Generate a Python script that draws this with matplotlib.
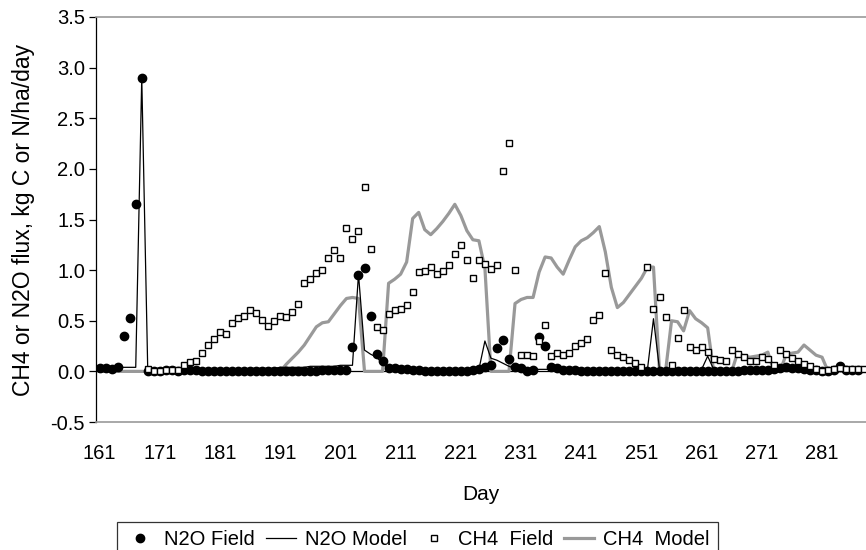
import numpy as np
import matplotlib
matplotlib.use('Agg')
import matplotlib.pyplot as plt
from matplotlib.lines import Line2D

plt.rcParams['font.family'] = ['Liberation Sans', 'DejaVu Sans']

nan = np.nan
days = list(range(161, 289))
x_ticks = [161, 171, 181, 191, 201, 211, 221, 231, 241, 251, 261, 271, 281]
y_ticks = [-0.5, 0.0, 0.5, 1.0, 1.5, 2.0, 2.5, 3.0, 3.5]

# N2O field (161-288)
n2o_field = [0.03, 0.03, 0.02, 0.04, 0.35, 0.53, 1.65, 2.90, 0.00,
             0.00, 0.00, 0.01, 0.01, 0.00, 0.01, 0.01, 0.01, 0.00, 0.00,
             0.00, 0.00, 0.00, 0.00, 0.00, 0.00, 0.00, 0.00, 0.00, 0.00,
             0.00, 0.00, 0.00, 0.00, 0.00, 0.00, 0.00, 0.00, 0.01, 0.01,
             0.01, 0.01, 0.01,
             0.24, 0.95, 1.02, 0.55, 0.17, 0.10,
             0.03, 0.03, 0.02, 0.02, 0.01, 0.01, 0.00, 0.00, 0.00, 0.00,
             0.00, 0.00, 0.00, 0.00, 0.01,
             0.02, 0.04, 0.06, 0.23, 0.31, 0.12, 0.04, 0.03, 0.00, 0.01,
             0.34, 0.25, 0.04, 0.03,
             0.01, 0.01, 0.01, 0.00, 0.00, 0.00, 0.00, 0.00, 0.00, 0.00,
             0.00, 0.00, 0.00, 0.00, 0.00, 0.00, 0.00, 0.00, 0.00, 0.00,
             0.00, 0.00, 0.00, 0.00, 0.00, 0.00, 0.00, 0.00, 0.00, 0.00,
             0.01, 0.01, 0.01, 0.01, 0.01,
             0.02, 0.03, 0.04, 0.03, 0.03, 0.02, 0.01,
             0.01, 0.00, 0.00, 0.01, 0.05, 0.01, 0.01, 0.01, nan]

n2o_model = [0.04, 0.04, 0.04, 0.04, 0.04, 0.04, 0.04, 2.90, 0.00,
             0.00, 0.00, 0.00, 0.01, 0.01, 0.01, 0.01, 0.01, 0.01, 0.01,
             0.02, 0.02, 0.02, 0.02, 0.02, 0.02, 0.03, 0.03, 0.03, 0.03,
             0.03, 0.04, 0.04, 0.04, 0.04, 0.04, 0.05, 0.05, 0.05, 0.05,
             0.05, 0.06, 0.06, 0.06,
             0.96, 0.21, 0.17, 0.14, 0.08, 0.02,
             0.01, 0.01, 0.01, 0.01, 0.01, 0.01, 0.01, 0.01, 0.01, 0.01,
             0.01, 0.01, 0.01, 0.01, 0.02,
             0.30, 0.13, 0.11, 0.08, 0.05, 0.03,
             0.02, 0.02, 0.02, 0.02, 0.02, 0.02, 0.02, 0.02, 0.02, 0.02,
             0.02, 0.02, 0.02, 0.02, 0.02, 0.02, 0.02, 0.02, 0.02, 0.02,
             0.02, 0.02,
             0.52,
             0.02, 0.02, 0.02, 0.02, 0.02, 0.02, 0.02, 0.02,
             0.15,
             0.02, 0.02, 0.02, 0.02, 0.02, 0.02, 0.02, 0.02, 0.02, 0.02,
             0.02, 0.02, 0.02, 0.02, 0.02, 0.02, 0.02, 0.02, 0.02, 0.02,
             0.02, 0.02, 0.02, 0.02, 0.02, 0.02]

ch4_field = [nan, nan, nan, nan, nan, nan, nan, nan, 0.02,
             0.00, 0.00, 0.01, 0.01, 0.01, 0.06, 0.09, 0.10, 0.18, 0.26,
             0.32, 0.39, 0.37, 0.48, 0.53, 0.55, 0.61, 0.58, 0.51, 0.45,
             0.50, 0.55, 0.54, 0.59, 0.67, 0.87, 0.91, 0.97, 1.00, 1.12,
             1.20, 1.12, 1.42, 1.31, 1.39, 1.82, 1.21, 0.44, 0.41, 0.57,
             0.61, 0.62, 0.66, 0.78, 0.98, 0.99, 1.03, 0.96, 0.99, 1.05,
             1.16, 1.25, 1.10, 0.92, 1.10, 1.06, 1.01, 1.05, 1.98, 2.26,
             1.00, 0.16, 0.16, 0.15, 0.30, 0.46, 0.15, 0.18, 0.16, 0.18,
             0.25, 0.28, 0.32, 0.51, 0.56, 0.97, 0.21, 0.16, 0.14, 0.11,
             0.08, 0.04, 1.03, 0.62, 0.73, 0.54, 0.06, 0.33, 0.61, 0.24,
             0.21, 0.24, 0.19, 0.12, 0.11, 0.10, 0.21, 0.17, 0.14, 0.10,
             0.10, 0.14, 0.12, 0.06, 0.21, 0.17, 0.13, 0.10, 0.07, 0.05,
             0.02, 0.00, 0.01, 0.02, 0.03, 0.02, 0.02, 0.02, 0.02]

ch4_model = [0.0] * 30 + [
             0.00, 0.07, 0.13, 0.19, 0.26, 0.35, 0.44, 0.48, 0.49, 0.57,
             0.65, 0.72, 0.73, 0.72,
             0.00, 0.00, 0.00, 0.00,
             0.87, 0.91, 0.96, 1.08, 1.51, 1.57, 1.40, 1.35, 1.41, 1.48,
             1.56, 1.65, 1.54, 1.39, 1.30, 1.29, 1.02,
             0.00, 0.00, 0.00, 0.00,
             0.67, 0.71, 0.73, 0.73, 0.98, 1.13, 1.12, 1.03, 0.96, 1.10,
             1.23, 1.29, 1.32, 1.37, 1.43, 1.18, 0.83, 0.63, 0.68, 0.76,
             0.84, 0.92, 1.03, 1.03,
             0.00, 0.00,
             0.50, 0.49, 0.40, 0.60, 0.52, 0.48, 0.43,
             0.00, 0.00, 0.00, 0.00,
             0.19, 0.15, 0.14, 0.15, 0.16, 0.19,
             0.00, 0.00,
             0.16, 0.18, 0.19, 0.26, 0.21, 0.16, 0.14,
             0.00, 0.00, 0.00, 0.00, 0.00, 0.00, 0.00]

fig = plt.figure(figsize=(8.66, 5.5), dpi=100)
ax = fig.add_axes([96 / 866, 128 / 550, 770 / 866, 405 / 550])

gray = '#999999'
fs = 14.5
ax.plot(days, ch4_model, color=gray, lw=2.3, zorder=2)
ax.plot(days, n2o_model, color='black', lw=0.9, zorder=3)
ax.plot(days, n2o_field, 'o', color='black', ms=6, zorder=4)
ax.plot(days, ch4_field, 's', mfc='white', mec='black', mew=1.0, ms=5,
        zorder=5)
ax.axhline(0, color='black', lw=0.9, zorder=1)

ax.set_xlim(160.4, 288.3)
ax.set_ylim(-0.5, 3.5)
ax.set_xticks(x_ticks)
ax.set_yticks(y_ticks)
ax.set_yticklabels(['%.1f' % v for v in y_ticks])
ax.tick_params(axis='x', length=0, pad=16, labelsize=fs)
ax.tick_params(axis='y', length=5, width=0.9, labelsize=fs, pad=3)

ax.spines['left'].set_color('black')
ax.spines['left'].set_linewidth(0.9)
ax.spines['top'].set_color(gray)
ax.spines['bottom'].set_color(gray)
ax.spines['top'].set_linewidth(1.2)
ax.spines['bottom'].set_linewidth(1.2)
ax.spines['right'].set_visible(False)

ax.set_xlabel('Day', fontsize=15, labelpad=16)
ax.set_ylabel('CH4 or N2O flux, kg C or N/ha/day', fontsize=16.5, labelpad=11)

handles = [
    Line2D([], [], ls='none', marker='o', color='black', ms=6),
    Line2D([], [], color='black', lw=0.9),
    Line2D([], [], ls='none', marker='s', mfc='white', mec='black', mew=1.0, ms=4.5),
    Line2D([], [], color=gray, lw=2.3),
]
labels = ['N2O Field', 'N2O Model', 'CH4  Field', 'CH4  Model']
leg = fig.legend(handles, labels, loc='upper left',
                 bbox_to_anchor=(117 / 866, 1 - 522 / 550), ncol=4,
                 fontsize=fs, frameon=True, fancybox=False,
                 handlelength=1.5, handletextpad=0.45, columnspacing=0.55,
                 borderpad=0.4, borderaxespad=0)
leg.get_frame().set_edgecolor('black')
leg.get_frame().set_linewidth(0.9)

fig.savefig('out.png', dpi=100)
